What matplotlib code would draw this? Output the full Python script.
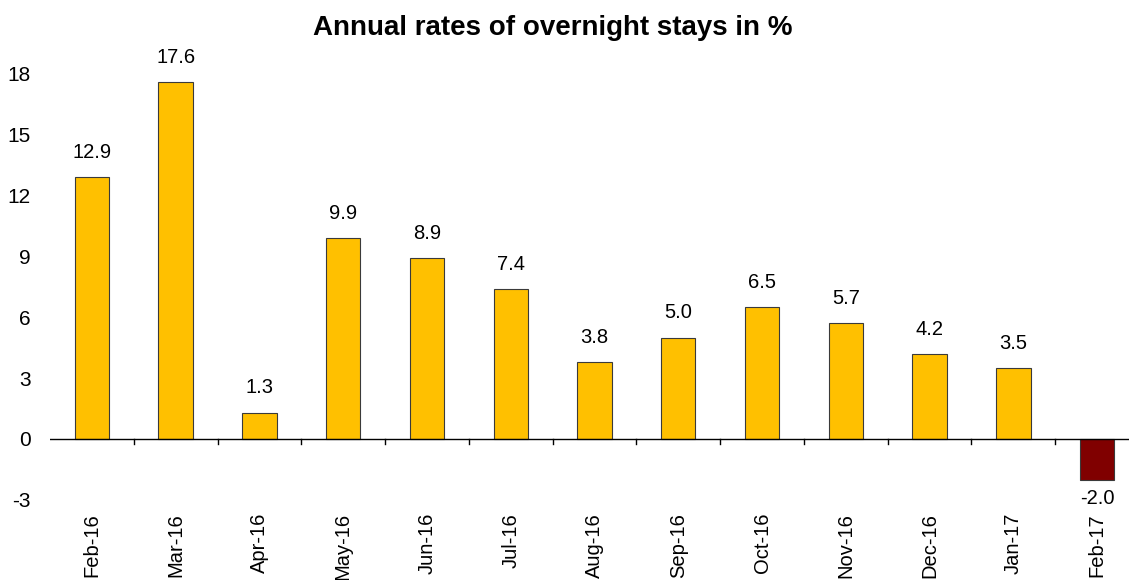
import matplotlib
matplotlib.use("Agg")
import matplotlib.pyplot as plt

plt.rcParams['font.family'] = ['Liberation Sans', 'DejaVu Sans']

categories = ["Feb-16", "Mar-16", "Apr-16", "May-16", "Jun-16", "Jul-16", "Aug-16",
              "Sep-16", "Oct-16", "Nov-16", "Dec-16", "Jan-17", "Feb-17"]
values = [12.9, 17.6, 1.3, 9.9, 8.9, 7.4, 3.8, 5.0, 6.5, 5.7, 4.2, 3.5, -2.0]
yticks = [-3, 0, 3, 6, 9, 12, 15, 18]

fig = plt.figure(figsize=(11.29, 5.8), dpi=100)
W, H = 1129, 580
x_left, x_right = 50, 1139
y_bot, y_top = 499.8, 33.4
ax = fig.add_axes([x_left / W, (H - y_bot) / H, (x_right - x_left) / W, (y_bot - y_top) / H])

n = len(categories)
xs = list(range(n))
colors = ["#FFC000" if v >= 0 else "#800000" for v in values]
ax.bar(xs, values, width=0.41, color=colors, edgecolor="#3a3a3a", linewidth=0.8, zorder=2)

for x, v in zip(xs, values):
    if v >= 0:
        ax.text(x, v + 0.75, f"{v:.1f}", ha="center", va="bottom", fontsize=14.5)
    else:
        ax.text(x, v - 0.45, f"{v:.1f}", ha="center", va="top", fontsize=14.5)

ax.set_xlim(-0.5, n - 0.5)
ax.set_ylim(-3, 20)
for s in ["top", "right", "left", "bottom"]:
    ax.spines[s].set_visible(False)
ax.axhline(0, color="black", linewidth=1, zorder=3)
for b in range(1, n):
    ax.plot([b - 0.5, b - 0.5], [0, -0.25], color="black", linewidth=1, zorder=3)

ax.set_yticks(yticks)
ax.set_yticklabels([str(t) for t in yticks], fontsize=15)
ax.tick_params(axis="y", length=0, pad=14)
ax.set_xticks([])
for x, c in zip(xs, categories):
    ax.text(x, -3.65, c, rotation=90, ha="center", va="top", fontsize=14.5)

fig.text(0.49, 0.951, "Annual rates of overnight stays in %", ha="center", va="center",
         fontsize=20, fontweight="bold")

fig.savefig("out.png", dpi=100)
